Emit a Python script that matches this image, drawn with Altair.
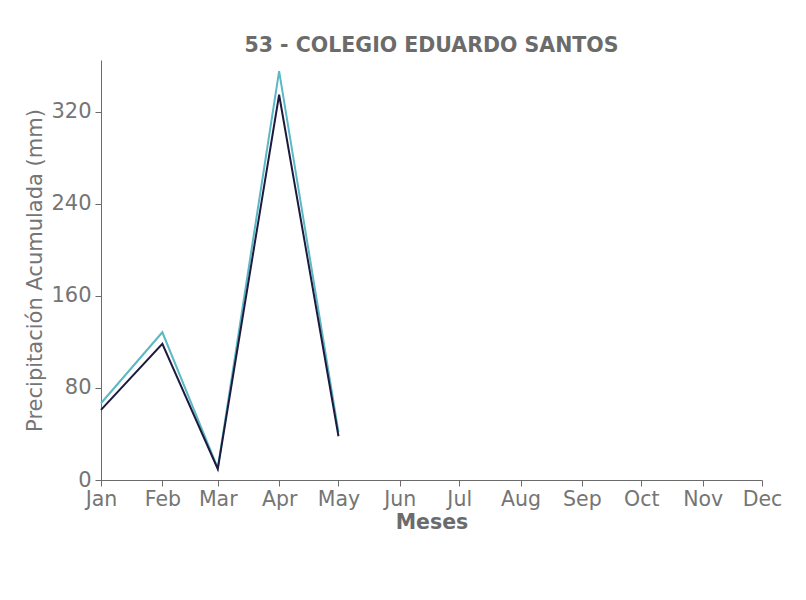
import altair as alt
import pandas as pd

months = ["2023-01-01", "2023-02-01", "2023-03-01", "2023-04-01", "2023-05-01"]
serie_teal = [66.7, 128.4, 10.4, 355.3, 41.5]
serie_navy = [60.9, 118.3, 9.6, 334.8, 38.0]
series_names = ["Serie 1", "Serie 2"]
series_colors = ["#5bb8c4", "#1c1a3e"]

rows = []
for m, v in zip(months, serie_teal):
    rows.append({"fecha": m, "valor": v, "serie": series_names[0]})
for m, v in zip(months, serie_navy):
    rows.append({"fecha": m, "valor": v, "serie": series_names[1]})
df = pd.DataFrame(rows)

font = "DejaVu Sans"
gray = "#6b6b6b"
lgray = "#757575"

chart = alt.Chart(df).mark_line(strokeWidth=2).encode(
    x=alt.X("fecha:T",
            scale=alt.Scale(domain=["2023-01-01", "2023-12-01"], nice=False),
            axis=alt.Axis(title="Meses", format="%b", tickCount={"interval": "month", "step": 1},
                          labelFontSize=20.5, titleFontSize=20.5, titleFontWeight="bold",
                          labelColor=lgray, titleColor=gray, domainColor=gray, tickColor=gray,
                          tickSize=6, grid=False, labelFont=font, titleFont=font, labelPadding=3,
                          titlePadding=3, labelOverlap=False, labelFlush=False)),
    y=alt.Y("valor:Q",
            scale=alt.Scale(domain=[0, 365], nice=False),
            axis=alt.Axis(title="Precipitación Acumulada (mm)", values=[0, 80, 160, 240, 320],
                          labelFontSize=21, titleFontSize=21, titleFontWeight="normal",
                          labelColor=lgray, titleColor=lgray, domainColor=gray, tickColor=gray,
                          tickSize=6, labelPadding=4, grid=False, labelFont=font, titleFont=font,
                          titlePadding=5)),
    color=alt.Color("serie:N", scale=alt.Scale(domain=series_names, range=series_colors), legend=None),
).properties(
    width=661, height=420,
    background="white",
    title=alt.TitleParams("53 - COLEGIO EDUARDO SANTOS", fontSize=20.5, fontWeight="bold",
                          color=gray, font=font, anchor="middle", offset=4),
    autosize=alt.AutoSizeParams(type="none"),
    padding={"left": 93, "top": 52, "right": 30, "bottom": 60},
).configure_view(stroke=None, strokeWidth=0)

chart.save("out.html", embed_options={"renderer": "svg", "actions": False})
